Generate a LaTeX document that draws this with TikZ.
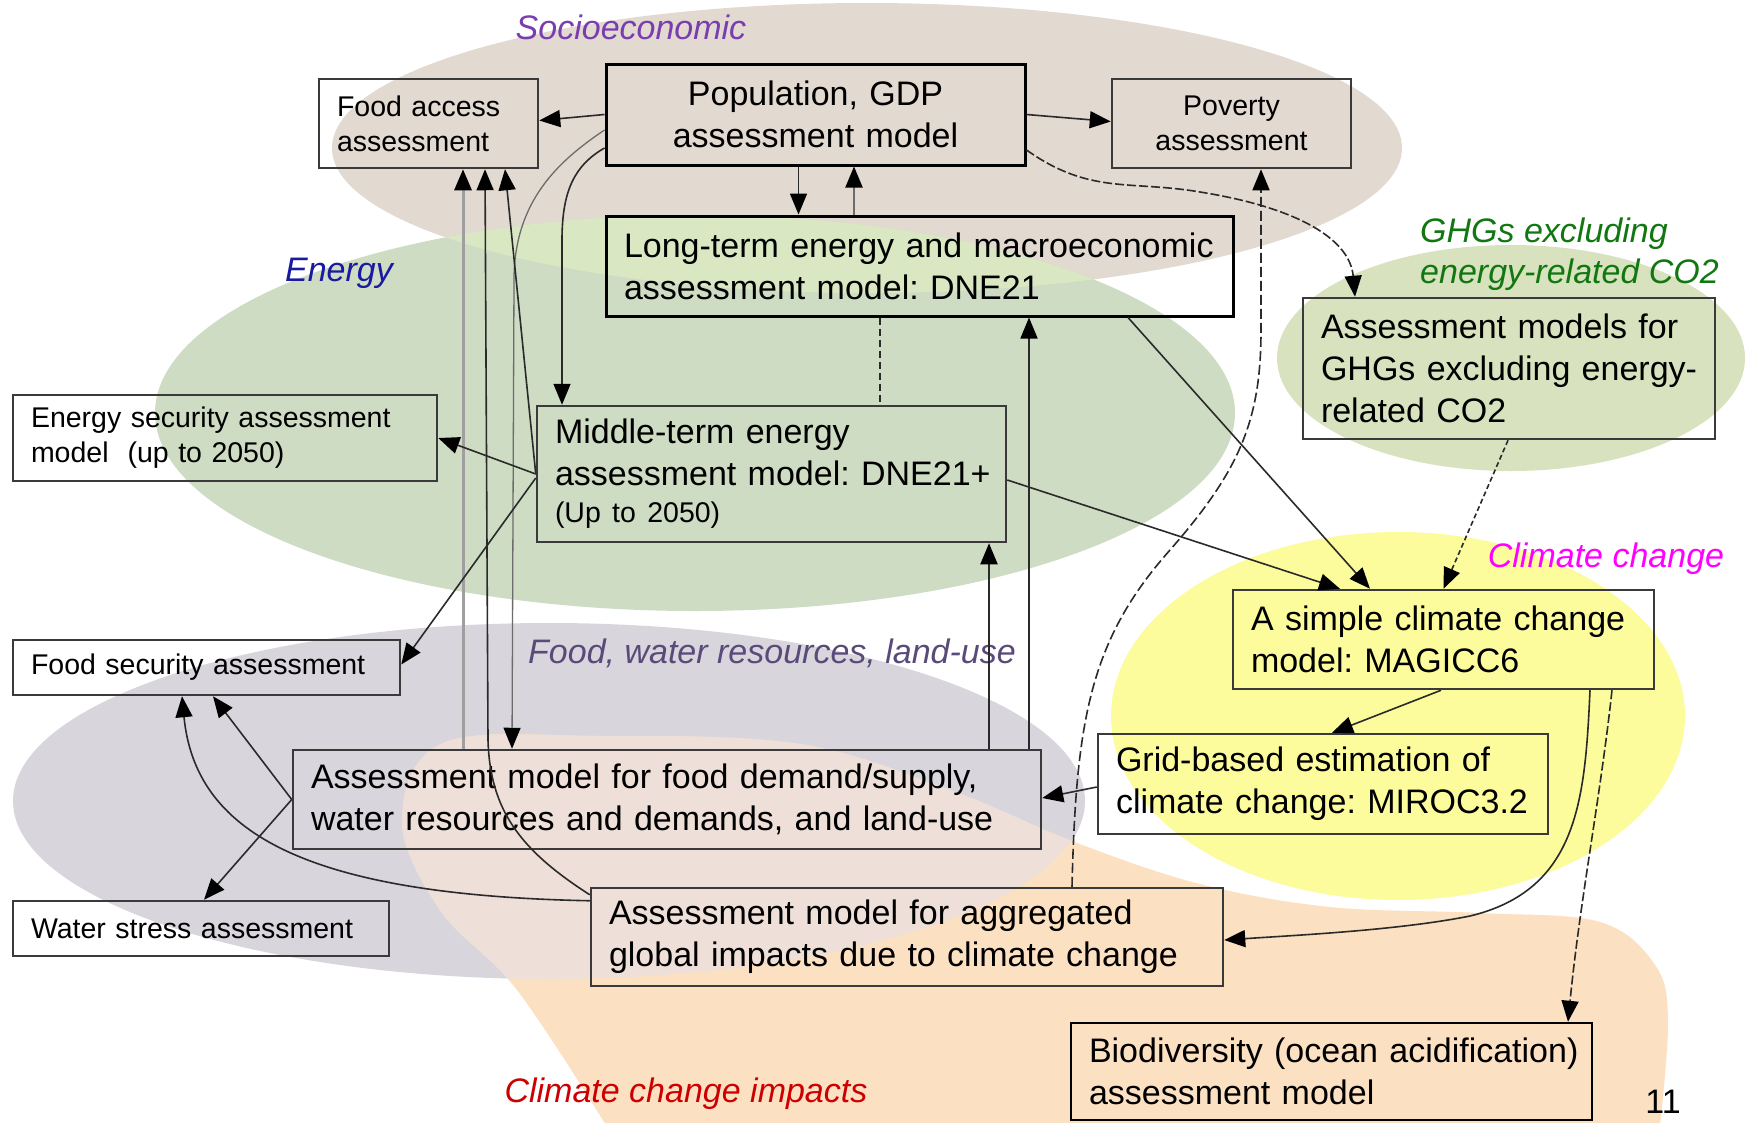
\documentclass[tikz,border=0pt]{standalone}
\usepackage{fontspec}
\setmainfont{Liberation Sans}
\usetikzlibrary{arrows.meta,calc}
\definecolor{brownbg}{HTML}{E2D9D1}
\definecolor{greenbg}{HTML}{CEDCC4}
\definecolor{lgreenbg}{HTML}{D9E8C3}
\definecolor{ghgbg}{HTML}{D8E2BE}
\definecolor{graybg}{HTML}{D8D6DC}
\definecolor{peachbg}{HTML}{FCE0C2}
\definecolor{pinkbg}{HTML}{EEDFD8}
\definecolor{yellowbg}{HTML}{FCFC9C}
\definecolor{boxc}{HTML}{3A3A3A}
\definecolor{linec}{HTML}{2A2A2A}
\definecolor{socc}{HTML}{7A3DB0}
\definecolor{enc}{HTML}{1A1AA0}
\definecolor{ghgc}{HTML}{117711}
\definecolor{climc}{HTML}{FF00FF}
\definecolor{foodc}{HTML}{5A4A7A}
\definecolor{impc}{HTML}{CC0000}
\frenchspacing
\begin{document}
\begin{tikzpicture}[x=1pt,y=-1pt,
  bigf/.style={font=\fontsize{34}{42}\selectfont},
  smallf/.style={font=\fontsize{28.5}{35}\selectfont},
  box/.style={draw=boxc, line width=2.5pt, inner xsep=18pt, inner ysep=0pt, align=left},
  lab/.style={font=\fontsize{34}{41}\selectfont\itshape, inner sep=0pt},
  conn/.style={draw=linec, line width=1.6pt, -{Triangle[length=21pt,width=17pt,color=black]}},
  gconn/.style={conn, draw=gray!85!black}
]
\useasboundingbox (0,0) rectangle (1750,1122);
\fill[white] (0,0) rectangle (1750,1122);
% background regions
\fill[brownbg] (867,148) ellipse [x radius=535pt, y radius=145pt];
\fill[greenbg] (695,413) ellipse [x radius=540pt, y radius=198pt];
\begin{scope}
  \clip (867,148) ellipse [x radius=535pt, y radius=145pt];
  \fill[lgreenbg] (695,413) ellipse [x radius=540pt, y radius=198pt];
\end{scope}
\fill[ghgbg] (1511,358) ellipse [x radius=234pt, y radius=113pt];
\fill[graybg] (549,801) ellipse [x radius=536pt, y radius=178pt];
\fill[peachbg] plot[smooth, tension=0.6] coordinates {(606,1125) (517,990) (440,910) (402,820) (443,743) (600,736) (800,744) (950,790) (1077,843) (1200,884) (1330,907) (1480,913) (1600,922) (1655,965) (1668,1020) (1660,1125)} -- (1660,1200) -- (606,1200) -- cycle;
\begin{scope}
  \clip (549,801) ellipse [x radius=536pt, y radius=178pt];
  \fill[pinkbg] plot[smooth, tension=0.6] coordinates {(606,1125) (517,990) (440,910) (402,820) (443,743) (600,736) (800,744) (950,790) (1077,843) (1200,884) (1330,907) (1480,913) (1600,922) (1655,965) (1668,1020) (1660,1125)} -- (1660,1200) -- (606,1200) -- cycle;
\end{scope}
\fill[yellowbg] (1398,716) ellipse [x radius=287pt, y radius=184pt];
% category labels
\node[lab, text=socc] (lsoc) at (631,27) {Socioeconomic};
\node[lab, text=enc] (lene) at (339,273) {Energy};
\node[lab, text=ghgc, align=left, anchor=west] (lghg) at (1420,254) {GHGs excluding\\energy-related CO2};
\node[lab, text=climc] (lclim) at (1606,559) {Climate change};
\node[lab, text=foodc] (lfood) at (772,653) {Food, water resources, land-use};
\node[lab, text=impc] (limp) at (686,1094) {Climate change impacts};
\node[font=\fontsize{34}{40}\selectfont, inner sep=0pt] (pnum) at (1663,1102) {11};
% boxes
\node[box, smallf, text width=183pt, minimum height=89pt] (foodacc) at (428.5,123.5) {Food access\\assessment};
\node[box, bigf, draw=black, line width=3pt, text width=383pt, minimum height=101pt, align=center] (pop) at (815.5,114.5) {Population, GDP\\assessment model};
\node[box, smallf, text width=203pt, minimum height=89pt, align=center] (pov) at (1231.5,123.5) {Poverty\\assessment};
\node[box, bigf, draw=black, line width=3pt, text width=591pt, minimum height=100pt] (longt) at (919.5,266) {\mbox{Long-term energy and macroeconomic}\\\mbox{assessment model: DNE21}};
\node[box, smallf, text width=388pt, minimum height=86pt] (ensec) at (225,438) {\mbox{Energy security assessment}\\\mbox{model\ \ (up to 2050)}};
\node[box, bigf, text width=433pt, minimum height=136pt] (mid) at (771.5,474) {\mbox{Middle-term energy}\\\mbox{assessment model: DNE21+}\\[-5pt]{\fontsize{28.5}{35}\selectfont\mbox{(Up to 2050)}}};
\node[box, bigf, text width=376pt, minimum height=141pt] (ghg) at (1509,368.5) {\mbox{Assessment models for}\\\mbox{GHGs excluding energy-}\\\mbox{related CO2}};
\node[box, bigf, text width=385pt, minimum height=99pt] (clim) at (1443.5,639.5) {\mbox{A simple climate change}\\\mbox{model: MAGICC6}};
\node[box, smallf, text width=351pt, minimum height=55pt] (foodsec) at (206.5,667.5) {\mbox{Food security assessment}};
\node[box, bigf, text width=712pt, minimum height=99pt] (fooddem) at (667,799.5) {\mbox{Assessment model for food demand/supply,}\\\mbox{water resources and demands, and land-use}};
\node[box, bigf, text width=414pt, minimum height=100pt] (grid) at (1323,784) {\mbox{Grid-based estimation of}\\\mbox{climate change: MIROC3.2}};
\node[box, smallf, text width=340pt, minimum height=55pt] (water) at (201,928.5) {\mbox{Water stress assessment}};
\node[box, bigf, text width=596pt, minimum height=98pt] (aggr) at (907,937) {\mbox{Assessment model for aggregated}\\\mbox{global impacts due to climate change}};
\node[box, bigf, draw=black, text width=485pt, minimum height=97pt] (bio) at (1331.5,1071.5) {\mbox{Biodiversity (ocean acidification)}\\\mbox{assessment model}};
% connectors
\draw[conn] (pop.west) -- ([yshift=3pt]foodacc.east);
\draw[conn] (pop.east) -- ([yshift=2pt]pov.west);
\draw[conn] ([xshift=-17pt]pop.south) -- ([xshift=-121pt]longt.north);
\draw[gconn, line width=2pt] ([xshift=-65.5pt]longt.north) -- ([xshift=38.5pt]pop.south);
\draw[draw=linec, line width=1.4pt, dash pattern=on 7pt off 4pt] ([xshift=-39.5pt]longt.south) -- ([xshift=108.5pt]mid.north);
\draw[conn, dash pattern=on 9pt off 3pt] ([yshift=-35.5pt]pop.east) .. controls (1090,195) and (1130,180) .. (1200,192) .. controls (1300,208) and (1350,240) .. ([xshift=-154pt]ghg.north);
\draw[conn] ([yshift=-33.5pt]pop.west) .. controls (575,165) and (562,190) .. (562,240) -- ([xshift=-209.5pt]mid.north);
\draw[gconn, line width=1.3pt] ([yshift=-15.5pt]pop.west) .. controls (560,160) and (514,200) .. (514,280) -- ([xshift=-155pt]fooddem.north);
\draw[conn, draw=gray!75, line width=3pt] ([xshift=-204pt]fooddem.north) -- ([xshift=34.5pt]foodacc.south);
\draw[conn] ([yshift=-8pt]aggr.north west) .. controls (520,850) and (490,810) .. (488,740) -- ([xshift=56.5pt]foodacc.south);
\draw[conn] (mid.west) -- ([xshift=76.5pt]foodacc.south);
\draw[conn] (mid.west) -- (ensec.east);
\draw[conn] ([yshift=-4pt]mid.west) -- ([yshift=3pt]foodsec.east);
\draw[conn] ([yshift=-6pt]mid.east) -- ([xshift=-103.5pt]clim.north);
\draw[conn] ([xshift=208.5pt]longt.south) -- ([xshift=-73.5pt]clim.north);
\draw[conn, dash pattern=on 5pt off 3pt] ([xshift=-1pt]ghg.south) -- (clim.north);
\draw[conn, dash pattern=on 10pt off 4pt] ([xshift=165pt]aggr.north) .. controls (1076,720) and (1090,640) .. (1170,550) .. controls (1240,470) and (1261,420) .. (1261,330) -- ([xshift=29.5pt]pov.south);
\draw[conn] ([xshift=362pt]fooddem.north) -- ([xshift=109.5pt]longt.south);
\draw[conn, line width=2pt] ([xshift=322pt]fooddem.north) -- ([xshift=217.5pt]mid.south);
\draw[conn] ([yshift=-3pt]grid.west) -- ([yshift=1.5pt]fooddem.east);
\draw[conn] ([xshift=-2.5pt]clim.south) -- ([xshift=9pt]grid.north);
\draw[conn] ([xshift=146.5pt]clim.south) .. controls (1585,800) and (1578,890) .. (1470,916) .. controls (1400,930) and (1300,935) .. ([yshift=-3pt]aggr.east);
\draw[conn, dash pattern=on 9pt off 3pt] ([xshift=168.5pt]clim.south) .. controls (1600,800) and (1580,900) .. ([xshift=236.5pt]bio.north);
\draw[conn] (fooddem.west) -- ([xshift=6.5pt]foodsec.south);
\draw[conn] (fooddem.west) -- ([xshift=3pt]water.north);
\draw[conn] ([yshift=-14pt]aggr.north west) .. controls (300,895) and (195,830) .. ([xshift=-24.5pt]foodsec.south);
\end{tikzpicture}
\end{document}
